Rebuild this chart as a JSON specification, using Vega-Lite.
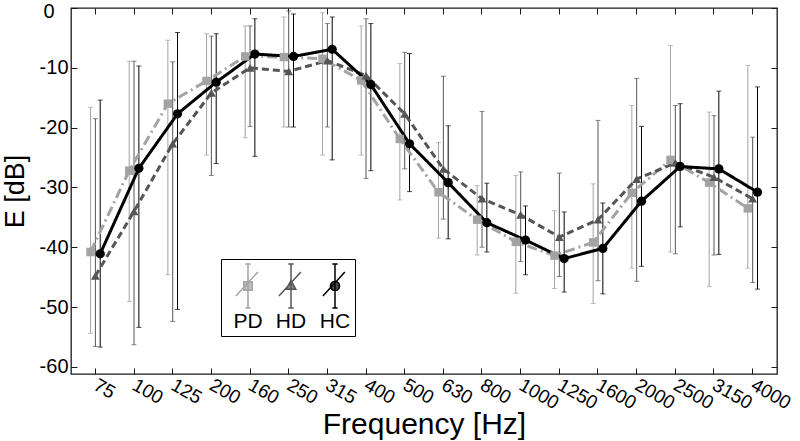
{
  "$schema": "https://vega.github.io/schema/vega-lite/v6.json",
  "width": 706,
  "height": 366,
  "autosize": "none",
  "padding": {"left": 71, "top": 8, "right": 23, "bottom": 67},
  "background": "white",
  "config": {
    "font": "Liberation Sans",
    "view": {"stroke": "#1a1a1a", "strokeWidth": 1.3},
    "axis": {"grid": false, "domain": false, "tickColor": "#1a1a1a", "tickWidth": 1, "labelColor": "black", "titleColor": "black", "titleFontWeight": "normal"}
  },
  "resolve": {"axis": {"x": "independent", "y": "independent"}},
  "data": {
    "values": [
      {"f": "75", "s": "PD", "m": -40.8, "lo": -54.4, "hi": -16.6},
      {"f": "75", "s": "HD", "m": -44.8, "lo": -56.6, "hi": -18.5},
      {"f": "75", "s": "HC", "m": -41.1, "lo": -56.7, "hi": -15.4},
      {"f": "100", "s": "PD", "m": -27.2, "lo": -49.1, "hi": -8.9},
      {"f": "100", "s": "HD", "m": -34.0, "lo": -56.3, "hi": -8.9},
      {"f": "100", "s": "HC", "m": -26.8, "lo": -53.4, "hi": -9.7},
      {"f": "125", "s": "PD", "m": -16.0, "lo": -44.6, "hi": -5.4},
      {"f": "125", "s": "HD", "m": -22.7, "lo": -52.4, "hi": -9.0},
      {"f": "125", "s": "HC", "m": -17.7, "lo": -50.4, "hi": -4.1},
      {"f": "200", "s": "PD", "m": -12.2, "lo": -24.6, "hi": -4.3},
      {"f": "200", "s": "HD", "m": -14.2, "lo": -28.0, "hi": -4.7},
      {"f": "200", "s": "HC", "m": -12.4, "lo": -26.0, "hi": -4.3},
      {"f": "160", "s": "PD", "m": -8.1, "lo": -21.7, "hi": -3.0},
      {"f": "160", "s": "HD", "m": -10.0, "lo": -19.8, "hi": -3.0},
      {"f": "160", "s": "HC", "m": -7.7, "lo": -24.8, "hi": -1.8},
      {"f": "250", "s": "PD", "m": -8.2, "lo": -19.9, "hi": -1.5},
      {"f": "250", "s": "HD", "m": -10.6, "lo": -19.9, "hi": -0.5},
      {"f": "250", "s": "HC", "m": -8.1, "lo": -19.9, "hi": -1.0},
      {"f": "315", "s": "PD", "m": -8.5, "lo": -24.6, "hi": -0.8},
      {"f": "315", "s": "HD", "m": -8.8, "lo": -19.9, "hi": -2.6},
      {"f": "315", "s": "HC", "m": -6.9, "lo": -25.4, "hi": -1.5},
      {"f": "400", "s": "PD", "m": -12.1, "lo": -24.6, "hi": -3.0},
      {"f": "400", "s": "HD", "m": -11.3, "lo": -28.5, "hi": -1.8},
      {"f": "400", "s": "HC", "m": -12.8, "lo": -27.2, "hi": -2.6},
      {"f": "500", "s": "PD", "m": -21.9, "lo": -32.1, "hi": -9.3},
      {"f": "500", "s": "HD", "m": -17.7, "lo": -26.9, "hi": -7.4},
      {"f": "500", "s": "HC", "m": -22.7, "lo": -30.7, "hi": -7.6},
      {"f": "630", "s": "PD", "m": -30.8, "lo": -38.5, "hi": -22.5},
      {"f": "630", "s": "HD", "m": -26.9, "lo": -35.3, "hi": -11.4},
      {"f": "630", "s": "HC", "m": -29.2, "lo": -38.6, "hi": -19.7},
      {"f": "800", "s": "PD", "m": -35.4, "lo": -41.3, "hi": -29.7},
      {"f": "800", "s": "HD", "m": -31.9, "lo": -40.0, "hi": -17.3},
      {"f": "800", "s": "HC", "m": -35.9, "lo": -40.8, "hi": -29.3},
      {"f": "1000", "s": "PD", "m": -39.1, "lo": -47.7, "hi": -28.0},
      {"f": "1000", "s": "HD", "m": -34.6, "lo": -42.4, "hi": -27.4},
      {"f": "1000", "s": "HC", "m": -38.8, "lo": -44.6, "hi": -33.1},
      {"f": "1250", "s": "PD", "m": -41.4, "lo": -46.9, "hi": -33.9},
      {"f": "1250", "s": "HD", "m": -38.3, "lo": -44.9, "hi": -27.6},
      {"f": "1250", "s": "HC", "m": -41.9, "lo": -47.5, "hi": -34.1},
      {"f": "1600", "s": "PD", "m": -39.2, "lo": -49.4, "hi": -29.4},
      {"f": "1600", "s": "HD", "m": -35.4, "lo": -45.6, "hi": -18.8},
      {"f": "1600", "s": "HC", "m": -40.2, "lo": -47.8, "hi": -32.6},
      {"f": "2000", "s": "PD", "m": -30.9, "lo": -43.5, "hi": -16.3},
      {"f": "2000", "s": "HD", "m": -28.6, "lo": -45.7, "hi": -11.8},
      {"f": "2000", "s": "HC", "m": -32.3, "lo": -43.2, "hi": -19.8},
      {"f": "2500", "s": "PD", "m": -25.4, "lo": -40.8, "hi": -6.3},
      {"f": "2500", "s": "HD", "m": -25.9, "lo": -41.1, "hi": -16.3},
      {"f": "2500", "s": "HC", "m": -26.5, "lo": -36.6, "hi": -16.0},
      {"f": "3150", "s": "PD", "m": -29.2, "lo": -46.6, "hi": -17.4},
      {"f": "3150", "s": "HD", "m": -28.3, "lo": -41.3, "hi": -18.0},
      {"f": "3150", "s": "HC", "m": -26.9, "lo": -41.2, "hi": -13.9},
      {"f": "4000", "s": "PD", "m": -33.5, "lo": -43.5, "hi": -9.6},
      {"f": "4000", "s": "HD", "m": -31.9, "lo": -45.9, "hi": -21.6},
      {"f": "4000", "s": "HC", "m": -30.8, "lo": -47.0, "hi": -13.2}
    ]
  },
  "encoding": {
    "x": {
      "field": "f", "type": "nominal", "sort": null,
      "scale": {"type": "band", "paddingInner": 0, "paddingOuter": 0.13},
      "axis": null
    },
    "xOffset": {"field": "s", "type": "nominal", "sort": ["PD", "HD", "HC"], "scale": {"paddingInner": 0, "paddingOuter": 0, "range": [12.1, 26.6]}},
    "color": {"field": "s", "type": "nominal", "legend": null, "sort": ["PD", "HD", "HC"], "scale": {"range": ["#a3a3a3", "#555555", "#000000"]}}
  },
  "layer": [
    {
      "mark": {"type": "rule", "strokeWidth": 1},
      "encoding": {
        "x": {
          "field": "f", "type": "nominal", "sort": null,
          "axis": {"orient": "bottom", "title": "Frequency [Hz]", "titleFontSize": 30, "titlePadding": -3,
                   "labelFontSize": 19, "labelAngle": 30, "labelAlign": "left", "labelBaseline": "middle",
                   "labelPadding": 15, "tickSize": -6}
        },
        "y": {"field": "lo", "type": "quantitative", "scale": {"domain": [-61.2, 0], "nice": false, "zero": false},
              "axis": {"orient": "left", "title": "E [dB]", "titleFontSize": 27, "titlePadding": 10, "values": [-60, -50, -40, -30, -20, -10, 0],
                       "labelFontSize": 20, "labelExpr": "'' + datum.value",
                       "labelOffset": {"condition": {"test": "datum.value === 0", "value": 3}, "value": 0},
                       "labelPadding": {"condition": {"test": "datum.value === 0", "value": 23}, "value": 9}, "tickSize": -6}},
        "y2": {"field": "hi"}
      }
    },
    {
      "mark": {"type": "tick", "thickness": 1, "size": 5, "orient": "horizontal"},
      "encoding": {"y": {"field": "lo", "type": "quantitative", "axis": null}}
    },
    {
      "mark": {"type": "tick", "thickness": 1, "size": 5, "orient": "horizontal"},
      "encoding": {"y": {"field": "hi", "type": "quantitative", "axis": null}}
    },
    {
      "mark": {"type": "line", "strokeWidth": 3},
      "encoding": {
        "y": {"field": "m", "type": "quantitative", "axis": null},
        "strokeDash": {"field": "s", "type": "nominal", "legend": null, "sort": ["PD", "HD", "HC"],
                       "scale": {"range": [[10, 4, 2, 4], [7, 4], [1, 0]]}}
      }
    },
    {
      "mark": {"type": "point", "filled": true},
      "encoding": {
        "y": {"field": "m", "type": "quantitative", "axis": null},
        "size": {"field": "s", "type": "nominal", "legend": null, "sort": ["PD", "HD", "HC"], "scale": {"range": [72, 85, 85]}},
        "shape": {"field": "s", "type": "nominal", "legend": null, "sort": ["PD", "HD", "HC"], "scale": {"range": ["square", "triangle-up", "circle"]}},
        "opacity": {"field": "s", "type": "nominal", "scale": {"domain": ["PD", "HD", "HC"], "range": [1, 1, 1]},
          "legend": {
            "orient": "none", "legendX": 150, "legendY": 251, "direction": "horizontal", "title": null,
            "symbolSize": 1936, "symbolStrokeWidth": 1.5, "labelFontSize": 21, "labelAlign": "center",
            "labelOffset": -23, "labelBaseline": "top", "strokeColor": "black", "fillColor": "white",
            "padding": 4, "columnPadding": 5, "cornerRadius": 0,
            "encoding": {
              "symbols": {
                "shape": {"value": {"expr": "datum.value === 'PD' ? 'M0,-1L0,1M-0.12,-1L0.12,-1M-0.12,1L0.12,1M-0.55,0.45L0.45,-0.64M-0.19,-0.19L0.19,-0.19L0.19,0.19L-0.19,0.19Z' : datum.value === 'HD' ? 'M0,-1L0,1M-0.12,-1L0.12,-1M-0.12,1L0.12,1M-0.55,0.45L0.45,-0.64M0,-0.25L0.22,0.15L-0.22,0.15Z' : 'M0,-1L0,1M-0.12,-1L0.12,-1M-0.12,1L0.12,1M-0.55,0.45L0.45,-0.64M0.21,0L0.182,0.105L0.105,0.182L0,0.21L-0.105,0.182L-0.182,0.105L-0.21,0L-0.182,-0.105L-0.105,-0.182L0,-0.21L0.105,-0.182L0.182,-0.105Z'"}},
                "fill": {"value": {"expr": "scale('color', datum.value)"}},
                "stroke": {"value": {"expr": "scale('color', datum.value)"}},
                "strokeWidth": {"value": 1.5}
              },
              "labels": {"dy": {"value": 25}}
            }
          }
        }
      }
    },
    {
      "mark": {"type": "point", "opacity": 0},
      "encoding": {
        "x": {"field": "f", "type": "nominal", "sort": null,
              "axis": {"orient": "top", "title": null, "labels": false, "tickSize": -6}},
        "y": {"field": "m", "type": "quantitative",
              "axis": {"orient": "right", "title": null, "labels": false, "tickSize": -6, "values": [-60, -50, -40, -30, -20, -10, 0]}},
        "color": {"value": "black"}
      }
    }
  ]
}
